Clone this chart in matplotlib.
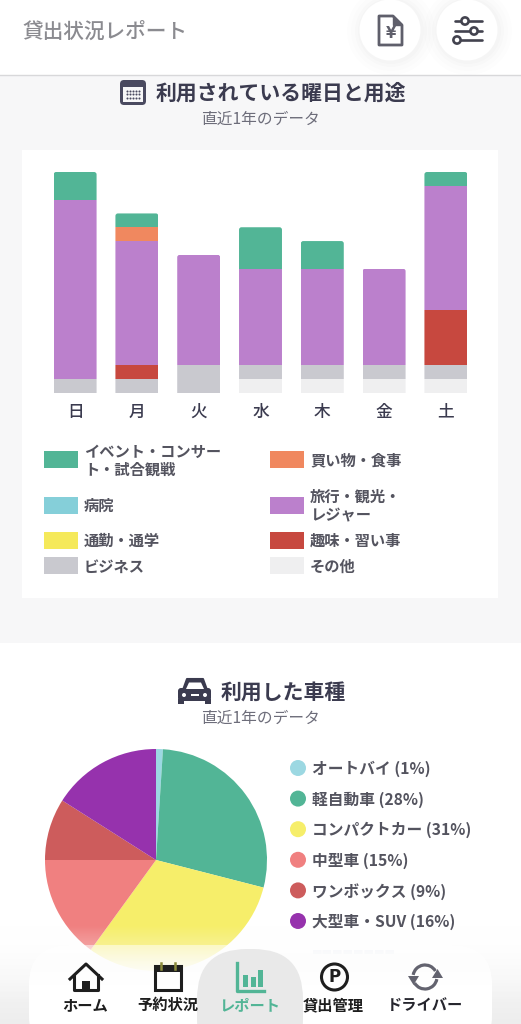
import numpy as np
import matplotlib
matplotlib.use("Agg")
import matplotlib.pyplot as plt
from matplotlib.patches import Rectangle, Circle, FancyBboxPatch, Polygon, Arc
from matplotlib.transforms import IdentityTransform

plt.rcParams['font.family'] = ['Noto Sans CJK JP', 'DejaVu Sans']

days = ['日', '月', '火', '水', '木', '金', '土']
usage_labels = ['その他', 'ビジネス', '趣味・習い事', '旅行・観光・\nレジャー', '買い物・食事', 'イベント・コンサー\nト・試合観戦']
other = [0, 0, 0, 1, 1, 1, 1]
business = [1, 1, 2, 1, 1, 1, 1]
hobby = [0, 1, 0, 0, 0, 0, 4]
travel = [13, 9, 8, 7, 7, 7, 9]
shopping = [0, 1, 0, 0, 0, 0, 0]
event = [2, 1, 0, 3, 2, 0, 1]
usage_colors = ['#efeff0', '#c9c9cf', '#c7483f', '#bb80cc', '#f0885f', '#52b596']

car_labels = ['オートバイ', '軽自動車', 'コンパクトカー', '中型車', 'ワンボックス', '大型車・SUV']
car_shares = [1, 28, 31, 15, 9, 16]
car_colors = ['#9cd8e2', '#52b596', '#f6ee6a', '#f08080', '#cd5c5c', '#9632ad']

W, H = 521, 1024
INK = '#3b3b4f'
GREY = '#6d6d7a'
LEG = '#54545f'
fig = plt.figure(figsize=(W / 100, H / 100), dpi=100, facecolor='white')


def px_axes(l, t, r, b, **kw):
    return fig.add_axes([l / W, 1 - b / H, (r - l) / W, (b - t) / H], **kw)


# page background
bg = px_axes(0, 0, W, H, zorder=0)
bg.set_xlim(0, W); bg.set_ylim(H, 0); bg.axis('off')
bg.add_patch(Rectangle((0, 75), W, 568, fc='#f7f7f8', ec='none'))
bg.plot([0, W], [75, 75], color='#d8d8da', lw=1)
bg.add_patch(Rectangle((22, 150), 476, 448, fc='white', ec='none'))
for cx in (390, 467):
    for r, a in ((44, .006), (40, .008), (36, .01), (33, .012)):
        bg.add_patch(Circle((cx + 1, 31), r, fc='black', alpha=a, ec='none'))
    bg.add_patch(Circle((cx, 30), 30.5, fc='white', ec='none'))

bg.text(22, 31.5, '貸出状況レポート', fontsize=14.9, color='#8b8b90', va='center', weight='medium')
bg.text(281, 93.5, '利用されている曜日と用途', fontsize=15, color=INK, weight='bold', ha='center', va='center')
bg.text(260, 119, '直近1年のデータ', fontsize=11.3, color=GREY, ha='center', va='center')
bg.text(283, 693, '利用した車種', fontsize=15, color=INK, weight='bold', ha='center', va='center')
bg.text(260, 718, '直近1年のデータ', fontsize=11.3, color=GREY, ha='center', va='center')

# header icons
bg.add_patch(Polygon([(379, 16), (393, 16), (402, 25), (402, 45), (379, 45)], closed=True, fc='none', ec='#5f5f6b', lw=2, joinstyle='round'))
bg.add_patch(Polygon([(393, 16), (393, 25), (402, 25)], closed=True, fc='#5f5f6b', ec='#5f5f6b', lw=1))
bg.text(390.5, 33, '¥', fontsize=10.5, color='#5f5f6b', ha='center', va='center', family='DejaVu Sans', weight='bold')
for y, cx in ((21, 465), (31, 474), (40, 457)):
    bg.plot([455, 482], [y, y], color='#43434f', lw=1.9, solid_capstyle='round')
    bg.add_patch(Circle((cx, y), 3.6, fc='white', ec='#43434f', lw=1.9, zorder=3))

# calendar icon
bg.add_patch(FancyBboxPatch((120, 80), 26, 25, boxstyle='round,pad=0,rounding_size=4', fc='#4a4a60', ec='none'))
bg.add_patch(Rectangle((123, 87), 20, 15, fc='#f7f7f8', ec='none'))
for yy in (90.5, 94, 97.5):
    bg.scatter(np.arange(126.5, 141, 3.2), [yy] * 5, s=2.2, c='#4a4a60', linewidths=0)

# car icon
bg.add_patch(Polygon([(183, 690), (187, 679), (203, 679), (207, 690)], closed=True, fc=INK, ec=INK, lw=1.5, joinstyle='round'))
bg.add_patch(FancyBboxPatch((178, 688), 33, 13, boxstyle='round,pad=0,rounding_size=3', fc=INK, ec='none'))
bg.add_patch(Polygon([(186, 689), (189, 682.5), (201, 682.5), (204, 689)], closed=True, fc='white', ec='none'))
bg.add_patch(Rectangle((178, 699), 6, 5, fc=INK, ec='none'))
bg.add_patch(Rectangle((205, 699), 6, 5, fc=INK, ec='none'))
bg.add_patch(Circle((184, 695), 2, fc='white', ec='none'))
bg.add_patch(Circle((205, 695), 2, fc='white', ec='none'))
bg.add_patch(Rectangle((190.5, 694), 8, 2.4, fc='white', ec='none'))

# stacked bars
ax = px_axes(44.2, 172, 476.8, 393, zorder=1)
ax.patch.set_alpha(0)
x = np.arange(len(days))
stacks = [other, business, hobby, travel, shopping, event]
bottom = np.zeros(len(days))
all_bars = []
for vals, col in zip(stacks, usage_colors):
    all_bars.append(ax.bar(x, vals, 0.695, bottom=bottom, color=col, linewidth=0))
    bottom += np.array(vals)
ax.set_xlim(-0.5, 6.5)
ax.set_ylim(0, 16)
ax.set_xticks(x, days, fontsize=12, color=INK, weight='medium')
ax.set_yticks([])
ax.tick_params(axis='x', length=0, pad=7)
for s in ax.spines.values():
    s.set_visible(False)
# rounded upper corners for every stack
for i in range(len(days)):
    (x0, y0) = ax.transData.transform((i - 0.3475, 0))
    (x1, y1) = ax.transData.transform((i + 0.3475, bottom[i]))
    clip = FancyBboxPatch((x0, y0 - 6), x1 - x0, y1 - y0 + 6, boxstyle='round,pad=0,rounding_size=2.5',
                          transform=IdentityTransform())
    for group in all_bars:
        group[i].set_clip_path(clip)

# usage legend
legend_items = [
    (usage_colors[5], usage_labels[5], 44, 459.5),
    (usage_colors[4], usage_labels[4], 270, 459.5),
    ('#85cfd9', '病院', 44, 505),
    (usage_colors[3], usage_labels[3], 270, 505),
    ('#f5e95a', '通勤・通学', 44, 540),
    (usage_colors[2], usage_labels[2], 270, 540),
    (usage_colors[1], usage_labels[1], 44, 565.5),
    (usage_colors[0], usage_labels[0], 270, 565.5),
]
for col, lab, lx, ly in legend_items:
    bg.add_patch(Rectangle((lx, ly - 8.5), 34, 17, fc=col, ec='none'))
    bg.text(lx + 40, ly + 1, lab, fontsize=11, color=LEG, va='center', linespacing=1.15, weight='bold')

# pie
pie_ax = px_axes(45, 749, 267, 971, zorder=1)
pie_ax.pie(car_shares, colors=car_colors, startangle=90, counterclock=False, radius=1,
           wedgeprops={'linewidth': 0})
pie_ax.set_xlim(-1, 1); pie_ax.set_ylim(-1, 1)

for i, (lab, share, col) in enumerate(zip(car_labels, car_shares, car_colors)):
    yy = 768 + i * 30.6
    bg.add_patch(Circle((298, yy), 8, fc=col, ec='none'))
    bg.text(312, yy + 1, f'{lab} ({share}%)', fontsize=11.3, color=LEG, va='center', weight='bold')

# faded seventh legend row seen through the navigation bar
bg.text(312, 952, '▬▬▬▬▬▬▬▬', fontsize=8, color='#eef0f6', va='center', family='DejaVu Sans')

# bottom fade and navigation
ov = px_axes(0, 0, W, H, zorder=5)
ov.set_xlim(0, W); ov.set_ylim(H, 0); ov.axis('off')
ov.patch.set_alpha(0)
ys = np.linspace(0, 1, 100)[:, None]
fade = np.ones((100, 1, 4))
fade[..., :3] = (1 - 0.07 * ys)[..., None] * np.ones(3)
fade[..., 3] = np.clip(ys * 1.25, 0, 1)
ov.imshow(fade, extent=(0, W, 1024, 925), aspect='auto', interpolation='bilinear', zorder=1)
ov.set_xlim(0, W); ov.set_ylim(H, 0)

ov.add_patch(FancyBboxPatch((29, 945), 463, 110, boxstyle='round,pad=0,rounding_size=40', fc='white', ec='none', alpha=0.5, zorder=2))
clip_low = FancyBboxPatch((29, 945), 463, 110, boxstyle='round,pad=0,rounding_size=40', transform=ov.transData)
low = np.ones((60, 1, 4))
low[..., 3] = np.clip(np.linspace(0.0, 2.0, 60), 0, 1)[:, None]
im = ov.imshow(low, extent=(0, W, 1024, 945), aspect='auto', interpolation='bilinear', zorder=2.5)
im.set_clip_path(clip_low)
ov.set_xlim(0, W); ov.set_ylim(H, 0)
ov.add_patch(FancyBboxPatch((197, 949), 106, 120, boxstyle='round,pad=0,rounding_size=50', fc='#e9e9e9', ec='none', zorder=3))

NK = '#1e1e1e'
nav = [('ホーム', 85.5, NK), ('予約状況', 167.5, NK), ('レポート', 250, '#52b596'), ('貸出管理', 333.5, NK), ('ドライバー', 425, '#26262e')]
for lab, cx, col in nav:
    ov.text(cx, 1005, lab, fontsize=11, color=col, ha='center', va='center', weight='bold', zorder=4)

# home
ov.plot([70, 86, 102], [979, 964, 979], color=NK, lw=2.2, zorder=4, solid_joinstyle='round')
ov.plot([74, 74, 98, 98], [975, 990, 990, 975], color=NK, lw=2.2, zorder=4)
ov.add_patch(Rectangle((82, 981), 8, 9, fc=NK, ec='none', zorder=4))
# calendar
ov.add_patch(Rectangle((155, 966), 26, 23.5, fc='none', ec=NK, lw=2.2, zorder=4))
ov.add_patch(Rectangle((155, 966), 26, 5.5, fc=NK, ec='none', zorder=4))
for cx in (161, 175):
    ov.plot([cx, cx], [963, 969], color='#8b8b3a', lw=1.8, zorder=4)
# report
ov.plot([237, 237, 264], [963, 991, 991], color='#52b596', lw=2.4, zorder=4)
for bx, bt in ((243, 975), (251, 977), (258, 970)):
    ov.add_patch(Rectangle((bx, bt), 5, 987 - bt, fc='#52b596', ec='none', zorder=4))
# parking
ov.add_patch(Circle((334.5, 977), 13, fc='none', ec=NK, lw=2.2, zorder=4))
ov.text(334.5, 977, 'P', fontsize=12, color=NK, ha='center', va='center', weight='bold', family='DejaVu Sans', zorder=4)
# driver arrows
DC = '#63636f'
ov.add_patch(Arc((425, 977), 24, 24, theta1=190, theta2=330, color=DC, lw=2.3, zorder=4))
ov.add_patch(Arc((425, 977), 24, 24, theta1=10, theta2=150, color=DC, lw=2.3, zorder=4))
ov.add_patch(Polygon([(432, 978), (443, 978), (437.5, 969)], closed=True, fc=DC, ec='none', zorder=4))
ov.add_patch(Polygon([(408, 976), (419, 976), (413.5, 985)], closed=True, fc=DC, ec='none', zorder=4))

fig.savefig('out.png', dpi=100)
